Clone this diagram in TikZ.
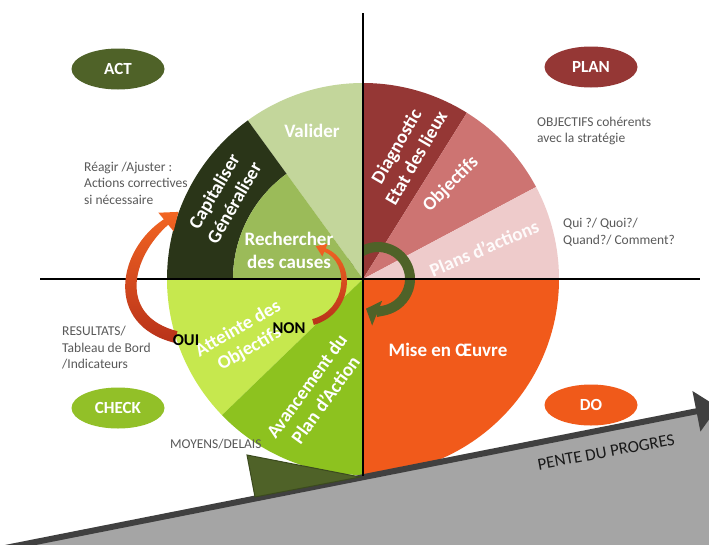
\documentclass[tikz,border=0pt]{standalone}
\usepackage{fontspec}
\setmainfont{Carlito}
\usetikzlibrary{shapes.geometric,arrows.meta,calc}
\definecolor{cValider}{HTML}{C3D69B}
\definecolor{cCapit}{HTML}{2A3518}
\definecolor{cRech}{HTML}{9BBB59}
\definecolor{cDiag}{HTML}{953735}
\definecolor{cObj}{HTML}{CD7472}
\definecolor{cPlans}{HTML}{EECBCB}
\definecolor{cMise}{HTML}{F15A1B}
\definecolor{cAtt}{HTML}{C6E84E}
\definecolor{cAvan}{HTML}{8DC21F}
\definecolor{cAct}{HTML}{4F6228}
\definecolor{cPlan}{HTML}{953735}
\definecolor{cCheck}{HTML}{92C028}
\definecolor{cDo}{HTML}{F05A1A}
\definecolor{shimdark}{HTML}{3B4A1E}
\definecolor{slopegrey}{HTML}{A5A5A5}
\definecolor{slopeline}{HTML}{404040}
\definecolor{labelgrey}{HTML}{595959}
\definecolor{arrowtop}{HTML}{F26522}
\definecolor{arrowbot}{HTML}{B8321A}
\begin{document}
\begin{tikzpicture}[x=1pt,y=-1pt,
  wlabel/.style={text=white, font=\fontsize{19}{23}\selectfont\bfseries, align=center, inner sep=0pt},
  glabel/.style={text=labelgrey, font=\fontsize{13.5}{16.5}\selectfont, align=left, anchor=west, inner sep=0pt},
  phase/.style={ellipse, minimum width=93pt, minimum height=41pt, inner sep=0pt, text=white, font=\fontsize{17}{20}\selectfont\bfseries},
  yn/.style={text=black, font=\fontsize{16.5}{20}\selectfont\bfseries, inner sep=0pt}]
\useasboundingbox (0,0) rectangle (709,544);
\clip (0,0) rectangle (709,544);
\fill[white] (0,0) rectangle (709,544);
\coordinate (C) at (363,279);
% PLAN / DO wedges
\fill[cDiag] (C) -- +(-58:196) arc[start angle=-58,end angle=-90,radius=196] -- cycle;
\fill[cObj] (C) -- +(-28:196) arc[start angle=-28,end angle=-58,radius=196] -- cycle;
\fill[cPlans] (C) -- +(0:196) arc[start angle=0,end angle=-28,radius=196] -- cycle;
\fill[cMise] (C) -- +(0:196) arc[start angle=0,end angle=90,radius=196] -- cycle;
% green cycle arrow
\coordinate (G) at (378,279);
\draw[cAct, line width=10pt, -{Triangle[length=12pt,width=26pt]}] ($(G)+(-170:32)$) arc[start angle=-170,end angle=112,radius=32];
% ACT / CHECK wedges
\fill[cValider] (C) -- +(-90:196) arc[start angle=-90,end angle=-126,radius=196] -- cycle;
\fill[cCapit] ($(C)+(-126:130)$) -- ($(C)+(-126:196)$) arc[start angle=-126,end angle=-180,radius=196] -- ($(C)+(180:130)$) arc[start angle=-180,end angle=-126,radius=130] -- cycle;
\fill[cRech] (C) -- +(-126:130) arc[start angle=-126,end angle=-180,radius=130] -- cycle;
\fill[cAtt] (C) -- +(180:196) arc[start angle=180,end angle=136,radius=196] -- cycle;
\fill[cAvan] (C) -- +(136:196) arc[start angle=136,end angle=90,radius=196] -- cycle;
% slope
\fill[slopegrey] (-5,550) -- (718,407) -- (718,550) -- cycle;
\draw[slopeline, line width=6pt, -{Triangle[length=22pt,width=40pt]}] (-5,550) -- (718,407);
\fill[cAct, draw=shimdark, line width=1pt] (247,455) -- (255,497) -- (360,477) -- cycle;
% axes
\coordinate (vtop) at (363,13);
\coordinate (vbot) at (363,476);
\coordinate (hl) at (40,279);
\coordinate (hr) at (700,279);
\draw[black, line width=1.8pt] (vtop) -- (vbot);
\draw[black, line width=1.8pt] (hl) -- (hr);
% curved arrows
\shade[top color=arrowtop, bottom color=arrowbot]
  (174.5,342.8) .. controls (104,325) and (117,250) .. (163.8,219.3)
  -- (158.4,212.7) -- (178.4,211.9) -- (173.6,231.3) -- (168.2,224.7)
  .. controls (131,258) and (118,316) .. (177.5,331.2) -- cycle;
\shade[top color=arrowtop, bottom color=arrowbot]
  (313.8,324.9) .. controls (353.5,313.5) and (357.5,261) .. (325.7,248.3)
  -- (327.7,243.5) -- (315.8,246.2) -- (322.3,256.5) -- (324.3,251.7)
  .. controls (350.5,263) and (346.5,310.5) .. (312.2,319.1) -- cycle;
% wedge labels
\node[wlabel] (valider) at (312,131) {Valider};
\node[wlabel, rotate=60] (capit) at (224,197) {Capitaliser\\Généraliser};
\node[wlabel] (rech) at (289,250) {Rechercher\\des causes};
\node[wlabel, rotate=60] (diag) at (406,152) {Diagnostic\\Etat des lieux};
\node[wlabel, rotate=45] (obj) at (451,184) {Objectifs};
\node[wlabel, rotate=23, text=white!92!cPlans] (plans) at (484,248) {Plans d’actions};
\node[wlabel] (mise) at (448,350) {Mise en Œuvre};
\node[wlabel, rotate=30] (att) at (244,339) {Atteinte des\\Objectifs};
\node[wlabel, rotate=54] (avan) at (316,393) {Avancement du\\Plan d’Action};
% phase ellipses
\node[phase, fill=cAct] (act) at (118,69) {ACT};
\node[phase, fill=cPlan] (plan) at (591,67) {PLAN};
\node[phase, fill=cCheck] (check) at (118,408) {CHECK};
\node[phase, fill=cDo] (do) at (591,405) {DO};
% grey labels
\node[glabel] (reagir) at (84,183) {Réagir /Ajuster :\\Actions correctives\\si nécessaire};
\node[glabel] (objcoh) at (537,131) {OBJECTIFS cohérents\\avec la stratégie};
\node[glabel] (qui) at (563,232) {Qui ?/ Quoi?/\\Quand?/ Comment?};
\node[glabel] (result) at (62,348) {RESULTATS/\\Tableau de Bord\\/Indicateurs};
\node[glabel] (moyens) at (170,444) {MOYENS/DELAIS};
\node[yn] (oui) at (186,340) {OUI};
\node[yn] (non) at (289,328) {NON};
\node[text=black!90, font=\fontsize{17}{20}\selectfont, rotate=10.5, inner sep=0pt] (pente) at (606,452) {PENTE DU PROGRES};
\end{tikzpicture}
\end{document}
